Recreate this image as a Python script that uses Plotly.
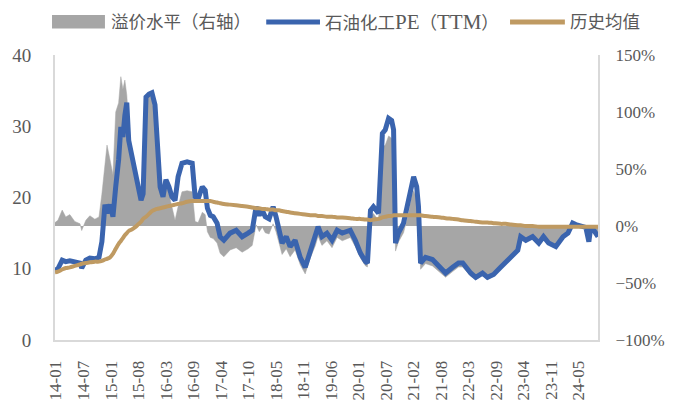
import pandas as pd
import plotly.graph_objects as go

dates = [
    "2014-01-01", "2014-01-22", "2014-02-22", "2014-03-20", "2014-04-18", "2014-05-24",
    "2014-07-01", "2014-07-13", "2014-08-12", "2014-09-10", "2014-10-16", "2014-11-15",
    "2014-12-06", "2014-12-28", "2015-01-12", "2015-02-03", "2015-02-24", "2015-03-16",
    "2015-04-06", "2015-04-22", "2015-05-07", "2015-05-21", "2015-06-04", "2015-06-18",
    "2015-07-10", "2015-08-01", "2015-08-24", "2015-09-15", "2015-09-30", "2015-10-21",
    "2015-11-12", "2015-12-03", "2015-12-25", "2016-01-09", "2016-01-31", "2016-02-21",
    "2016-03-13", "2016-04-04", "2016-04-25", "2016-05-18", "2016-06-09", "2016-07-07",
    "2016-08-13", "2016-09-19", "2016-10-10", "2016-11-01", "2016-12-01", "2016-12-22",
    "2017-01-07", "2017-01-28", "2017-02-18", "2017-03-18", "2017-04-09", "2017-05-06",
    "2017-06-20", "2017-08-03", "2017-09-15", "2017-10-28", "2017-11-27", "2017-12-25",
    "2018-01-17", "2018-02-08", "2018-03-01", "2018-03-29", "2018-04-27", "2018-05-18",
    "2018-06-09", "2018-07-01", "2018-07-31", "2018-08-28", "2018-10-03", "2018-11-09",
    "2018-12-15", "2019-01-21", "2019-02-27", "2019-03-18", "2019-04-15", "2019-05-21",
    "2019-06-27", "2019-08-03", "2019-09-09", "2019-11-06", "2019-12-12", "2020-01-18",
    "2020-02-24", "2020-03-09", "2020-03-31", "2020-04-21", "2020-05-28", "2020-06-25",
    "2020-07-16", "2020-08-09", "2020-08-31", "2020-09-14", "2020-09-28", "2020-10-19",
    "2020-11-25", "2021-01-01", "2021-01-22", "2021-02-06", "2021-02-28", "2021-03-13",
    "2021-03-28", "2021-05-03", "2021-06-22", "2021-08-19", "2021-09-25", "2021-11-15",
    "2021-12-28", "2022-01-27", "2022-03-25", "2022-05-01", "2022-06-19", "2022-07-25",
    "2022-09-07", "2022-10-28", "2022-12-04", "2023-01-10", "2023-03-01", "2023-03-22",
    "2023-04-28", "2023-06-16", "2023-07-31", "2023-09-03", "2023-10-10", "2023-12-01",
    "2024-01-22", "2024-02-27", "2024-04-01", "2024-04-24", "2024-06-01", "2024-07-05",
    "2024-07-27", "2024-08-10", "2024-09-01", "2024-10-01",
]

pe_ttm = [
    9.8, 10.0, 11.2, 11.0, 11.1, 10.9,
    10.8, 10.1, 11.2, 11.5, 11.4, 11.6,
    13.8, 19.0, 17.8, 19.0, 17.3, 21.5,
    25.3, 29.9, 28.5, 31.5, 33.3, 28.0,
    25.7, 23.4, 21.5, 19.6, 20.5, 34.1,
    34.5, 34.7, 33.0, 28.0, 21.5, 20.1,
    22.5, 21.5, 20.1, 19.6, 22.9, 24.8,
    25.0, 24.8, 20.1, 19.8, 21.5, 21.0,
    18.5, 17.5, 17.3, 16.4, 14.5, 14.0,
    15.0, 15.4, 14.5, 15.0, 15.4, 18.7,
    17.5, 18.2, 17.3, 17.0, 18.7, 17.3,
    15.4, 13.6, 14.5, 13.1, 14.0, 11.6,
    10.2, 12.6, 14.5, 15.9, 14.5, 15.0,
    14.0, 15.4, 15.0, 15.4, 14.0, 12.2,
    11.0, 10.8, 18.2, 18.7, 17.8, 29.0,
    29.5, 31.1, 30.8, 29.5, 13.6, 15.0,
    16.4, 19.6, 22.0, 22.9, 21.5, 18.7,
    10.8, 11.6, 11.3, 10.2, 9.4, 10.2,
    10.8, 10.8, 9.4, 8.8, 9.4, 8.8,
    9.2, 10.2, 10.9, 11.6, 12.6, 14.5,
    14.0, 14.5, 13.6, 14.5, 13.6, 13.1,
    14.5, 15.0, 16.4, 16.2, 15.9, 15.8,
    13.8, 15.9, 15.4, 14.5,
]

hist_mean = [
    9.5, 9.6, 9.9, 10.1, 10.2, 10.4,
    10.6, 10.7, 10.8, 10.9, 11.0, 11.0,
    11.1, 11.3, 11.4, 11.6, 12.1, 12.8,
    13.5, 13.9, 14.3, 14.7, 15.0, 15.3,
    15.5, 15.8, 16.2, 16.6, 17.0, 17.3,
    17.7, 18.1, 18.3, 18.4, 18.5, 18.6,
    18.7, 18.8, 18.9, 19.0, 19.1, 19.2,
    19.4, 19.5, 19.5, 19.5, 19.5, 19.5,
    19.5, 19.5, 19.4, 19.3, 19.2, 19.1,
    19.0, 18.9, 18.8, 18.7, 18.6, 18.5,
    18.5, 18.4, 18.4, 18.3, 18.3, 18.2,
    18.2, 18.1, 18.0, 17.9, 17.8, 17.7,
    17.6, 17.5, 17.5, 17.4, 17.4, 17.3,
    17.3, 17.2, 17.2, 17.1, 17.0, 17.0,
    16.9, 16.9, 16.8, 16.9, 17.0, 17.2,
    17.3, 17.4, 17.4, 17.5, 17.5, 17.5,
    17.5, 17.5, 17.5, 17.5, 17.5, 17.5,
    17.5, 17.4, 17.3, 17.2, 17.1, 17.0,
    16.9, 16.8, 16.7, 16.6, 16.5, 16.5,
    16.4, 16.3, 16.3, 16.2, 16.1, 16.1,
    16.0, 16.0, 15.9, 15.9, 15.9, 15.9,
    15.9, 15.9, 15.9, 15.9, 15.9, 15.9,
    15.9, 15.9, 15.9, 15.9,
]

premium_pct = [
    3, 5, 14, 8, 10, 4,
    2, -4, 5, 9, 6, 8,
    28, 55, 71, 58, 45, 100,
    108, 131, 120, 128, 115, 90,
    58, 49, 34, 29, 45, 102,
    117, 110, 95, 60, 30, 29,
    39, 28, 18, 5, 17, 30,
    31, 30, 4, 3, 12, 10,
    -5, -10, -11, -15, -24, -27,
    -21, -19, -23, -20, -17, 1,
    -5, -1, -6, -7, 2, -5,
    -15, -25, -20, -27, -21, -34,
    -42, -28, -17, -9, -17, -13,
    -19, -10, -13, -10, -18, -28,
    -35, -36, 8, 11, 5, 69,
    71, 79, 77, 69, -22, -14,
    -6, 12, 26, 31, 23, 7,
    -38, -33, -35, -41, -45, -40,
    -36, -36, -44, -47, -43, -47,
    -44, -37, -33, -28, -22, -10,
    -13, -9, -14, -9, -14, -18,
    -9, -6, 3, 2, 0, -1,
    -13, 0, -3, -9,
]

tick_labels = ["14-01", "14-07", "15-01", "15-08", "16-03", "16-09", "17-04", "17-10",
               "18-05", "18-11", "19-06", "20-01", "20-07", "21-02", "21-08", "22-03",
               "22-09", "23-04", "23-11", "24-05"]

names = ["溢价水平（右轴）", "石油化工PE（TTM）", "历史均值"]

tick_vals = [pd.Timestamp("2014-01-08") + pd.Timedelta(days=199 * i) for i in range(len(tick_labels))]

FONT = "Liberation Serif, Noto Sans CJK SC, serif"
TXT = "#595959"
AXIS = "#D9D9D9"
GRAY = "#A6A6A6"
BLUE = "#3A64AE"
TAN = "#BF9A62"

fig = go.Figure()
# premium area on primary axis (drawn underneath), shown on the right side
fig.add_trace(go.Scatter(
    x=dates, y=premium_pct, name=names[0], yaxis="y",
    mode="lines", fill="tozeroy", fillcolor=GRAY,
    line=dict(color=GRAY, width=0.5), showlegend=False,
))
# PE and mean on overlaying axis (drawn on top), shown on the left side
fig.add_trace(go.Scatter(
    x=dates, y=pe_ttm, name=names[1], yaxis="y2", mode="lines",
    line=dict(color=BLUE, width=5), showlegend=False,
))
fig.add_trace(go.Scatter(
    x=dates, y=hist_mean, name=names[2], yaxis="y2", mode="lines",
    line=dict(color=TAN, width=4, shape="spline"), showlegend=False,
))

# custom legend (paper coordinates)
LY = 1.116
big = "<span style='font-size:21px'>{}</span>"
legend_texts = [
    names[0],
    "石油化工" + big.format("PE") + "（" + big.format("TTM") + "）",
    names[2],
]
shapes = [
    dict(type="rect", xref="paper", yref="paper", x0=-0.0055, x1=0.092, y0=1.093, y1=1.14,
         fillcolor=GRAY, line=dict(width=0)),
    dict(type="line", xref="paper", yref="paper", x0=0.389, x1=0.488, y0=LY, y1=LY,
         line=dict(color=BLUE, width=5)),
    dict(type="line", xref="paper", yref="paper", x0=0.838, x1=0.939, y0=LY, y1=LY,
         line=dict(color=TAN, width=5)),
]
annotations = [
    dict(xref="paper", yref="paper", x=0.099, y=LY, text=legend_texts[0], showarrow=False,
         xanchor="left", yanchor="middle", font=dict(size=17.5, color=TXT)),
    dict(xref="paper", yref="paper", x=0.494, y=LY, text=legend_texts[1], showarrow=False,
         xanchor="left", yanchor="middle", font=dict(size=17.5, color=TXT)),
    dict(xref="paper", yref="paper", x=0.945, y=LY, text=legend_texts[2], showarrow=False,
         xanchor="left", yanchor="middle", font=dict(size=17.5, color=TXT)),
]

fig.update_layout(
    width=673, height=403,
    margin=dict(l=47, r=83, t=47, b=71),
    paper_bgcolor="white", plot_bgcolor="white",
    font=dict(family=FONT, color=TXT, size=18),
    showlegend=False,
    shapes=shapes, annotations=annotations,
    xaxis=dict(type="date", range=["2014-01-01", "2024-10-01"],
               tickvals=tick_vals, ticktext=tick_labels, tickangle=-90,
               showgrid=False, zeroline=False, showline=True, linecolor=AXIS, linewidth=2,
               ticks="", tickfont=dict(size=17, color=TXT), automargin=False,
               ticklabelstandoff=12),
    yaxis=dict(range=[-100, 150], dtick=50, ticksuffix="%", side="right",
               showgrid=False, zeroline=False, showline=True, linecolor=AXIS, linewidth=2,
               ticks="", tickfont=dict(size=17, color=TXT), automargin=False,
               ticklabelstandoff=12),
    yaxis2=dict(range=[0, 40], dtick=10, overlaying="y", side="left",
                showgrid=False, zeroline=False, showline=True, linecolor=AXIS, linewidth=2,
                ticks="", tickfont=dict(size=19, color=TXT), automargin=False,
                ticklabelstandoff=18),
)

fig.write_html("out.html")
